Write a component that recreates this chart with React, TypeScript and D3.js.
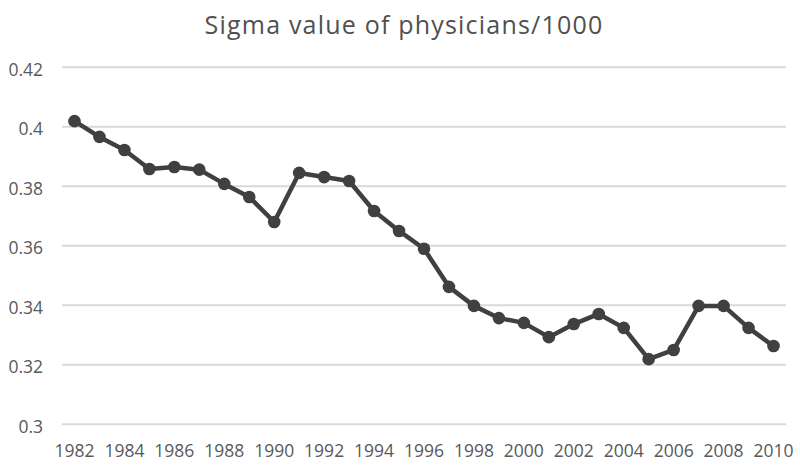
import React from "react";
import * as d3 from "d3";

const years: number[] = [1982,1983,1984,1985,1986,1987,1988,1989,1990,1991,1992,1993,1994,1995,1996,1997,1998,1999,2000,2001,2002,2003,2004,2005,2006,2007,2008,2009,2010];
const sigma: number[] = [0.4019,0.3966,0.3922,0.3858,0.3865,0.3856,0.3808,0.3764,0.3680,0.3845,0.3831,0.3818,0.3717,0.3650,0.3590,0.3462,0.3398,0.3357,0.3341,0.3293,0.3337,0.3371,0.3324,0.3219,0.3250,0.3398,0.3398,0.3324,0.3263];
const yTicks: number[] = [0.3,0.32,0.34,0.36,0.38,0.4,0.42];
const xTickLabels: number[] = [1982,1984,1986,1988,1990,1992,1994,1996,1998,2000,2002,2004,2006,2008,2010];
const title = "Sigma value of physicians/1000";

const W = 800, H = 467;
const plot = { left: 62, right: 786, top: 67.3, bottom: 424.3 };

export default function App() {
  const x = d3.scalePoint<number>().domain(years).range([plot.left, plot.right]).padding(0.5);
  const y = d3.scaleLinear().domain([0.3, 0.42]).range([plot.bottom, plot.top]);
  const line = d3.line<number>().x((_, i) => x(years[i])!).y(d => y(d));
  const font = "'Open Sans', sans-serif";
  const fmt = (v: number) => String(+v.toFixed(2));
  return (
    <svg width={W} height={H} style={{ position: "absolute", left: 0, top: 0, background: "#fff" }}>
      <text x={404} y={34} textAnchor="middle" fontFamily={font} fontSize={25} letterSpacing={1.2} fill="#505050">{title}</text>
      {yTicks.map(t => (
        <g key={t}>
          <line x1={plot.left} x2={plot.right} y1={y(t)} y2={y(t)} stroke="#d9d9d9" strokeWidth={2} />
          <text x={43} y={y(t) + 8.5} textAnchor="end" fontFamily={font} fontSize={17.5} fill="#595959">{fmt(t)}</text>
        </g>
      ))}
      {xTickLabels.map(t => (
        <text key={t} x={x(t)!} y={457} textAnchor="middle" fontFamily={font} fontSize={17.5} fill="#595959">{t}</text>
      ))}
      <path d={line(sigma) || ""} fill="none" stroke="#404040" strokeWidth={4.5} strokeLinejoin="round" />
      {sigma.map((v, i) => (
        <circle key={years[i]} cx={x(years[i])!} cy={y(v)} r={6.3} fill="#404040" />
      ))}
    </svg>
  );
}
